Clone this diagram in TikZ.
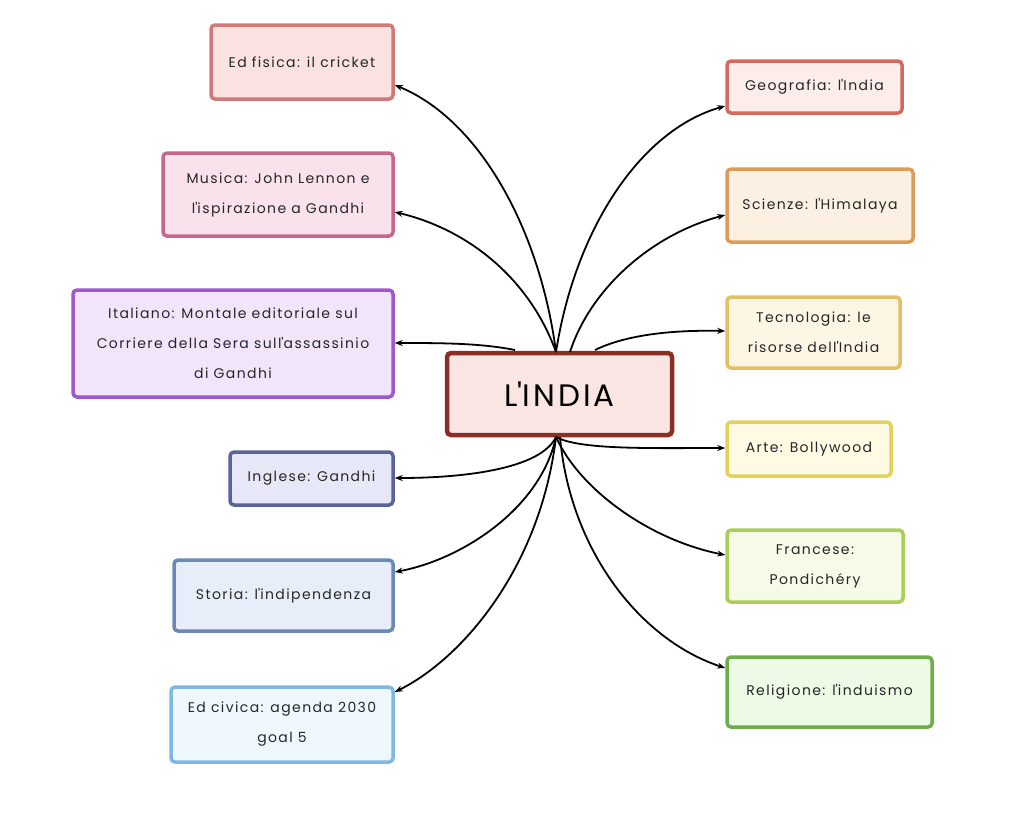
\documentclass[tikz,border=0pt]{standalone}
\usepackage{fontspec}
\setmainfont{Poppins}[LetterSpace=10]
\usetikzlibrary{arrows.meta}
\newcommand\q{\textquotesingle}
\begin{document}
\begin{tikzpicture}[x=1pt,y=-1pt,
 box/.style={draw=#1,line width=3.5pt,rounded corners=4pt,inner sep=0pt},
 tx/.style={font=\fontsize{14}{30}\selectfont,align=center,text=black!85},
 con/.style={-{Stealth[length=8pt,width=6pt]},line width=1.8pt,black}]
\useasboundingbox (0,0) rectangle (1024,814);
\newcommand\bx[7]{\node[box=#6,fill=#7,minimum width={#3-#1},minimum height={#4-#2}] (#5) at ({(#1+#3)/2},{(#2+#4)/2}) {};}
\definecolor{c1}{HTML}{D07A78}\definecolor{f1}{HTML}{F9E2DF}
\definecolor{c2}{HTML}{C4678A}\definecolor{f2}{HTML}{F9E2EC}
\definecolor{c3}{HTML}{A157CF}\definecolor{f3}{HTML}{F1E4FB}
\definecolor{c4}{HTML}{5A6499}\definecolor{f4}{HTML}{E6E8F8}
\definecolor{c5}{HTML}{6A8AB5}\definecolor{f5}{HTML}{E8EEF9}
\definecolor{c6}{HTML}{7FB8E0}\definecolor{f6}{HTML}{EEF8FE}
\definecolor{d1}{HTML}{D46A5E}\definecolor{g1}{HTML}{FCEDEB}
\definecolor{d2}{HTML}{DD9A59}\definecolor{g2}{HTML}{FCF0E3}
\definecolor{d3}{HTML}{E3BF67}\definecolor{g3}{HTML}{FDF6E4}
\definecolor{d4}{HTML}{E3D15A}\definecolor{g4}{HTML}{FEFAE4}
\definecolor{d5}{HTML}{A9CF5A}\definecolor{g5}{HTML}{F5FBE7}
\definecolor{d6}{HTML}{6DAE4A}\definecolor{g6}{HTML}{EDFAE6}
\definecolor{cc}{HTML}{8B2E24}\definecolor{fc}{HTML}{F9E6E3}
\node[box=cc,fill=fc,line width=4.5pt,minimum width=225,minimum height=82,font=\fontsize{31}{34}\selectfont,text=black] (C) at (559.5,394) {L\q INDIA};
\bx{211}{25}{393}{99}{L1}{c1}{f1}
\bx{163}{153}{393}{236}{L2}{c2}{f2}
\bx{73}{290}{393}{397}{L3}{c3}{f3}
\bx{230}{452}{393}{505}{L4}{c4}{f4}
\bx{174}{560}{393}{631}{L5}{c5}{f5}
\bx{171}{687}{393}{762}{L6}{c6}{f6}
\bx{727}{61}{902}{113}{R1}{d1}{g1}
\bx{727}{169}{913}{242}{R2}{d2}{g2}
\bx{727}{297}{900}{368}{R3}{d3}{g3}
\bx{727}{422}{891}{476}{R4}{d4}{g4}
\bx{727}{530}{903}{602}{R5}{d5}{g5}
\bx{727}{657}{932}{727}{R6}{d6}{g6}
\node[tx] at (L1) {Ed fisica: il cricket};
\node[tx] at (L2) {Musica: John Lennon e\\l\q ispirazione a Gandhi};
\node[tx] at (L3) {Italiano: Montale editoriale sul\\Corriere della Sera sull\q assassinio\\di Gandhi};
\node[tx] at (L4) {Inglese: Gandhi};
\node[tx] at (L5) {Storia: l\q indipendenza};
\node[tx] at (L6) {Ed civica: agenda 2030\\goal 5};
\node[tx] at (R1) {Geografia: l\q India};
\node[tx] at (R2) {Scienze: l\q Himalaya};
\node[tx] at (R3) {Tecnologia: le\\risorse dell\q India};
\node[tx] at (R4) {Arte: Bollywood};
\node[tx] at (R5) {Francese:\\Pondichéry};
\node[tx] at (R6) {Religione: l\q induismo};
\coordinate (t) at (556,352);
\coordinate (b) at (556,437);
\draw[con] (t) .. controls (540,230) and (480,120) .. (L1.east|-0,85);
\draw[con] (t) .. controls (530,280) and (470,230) .. (L2.east|-0,212);
\draw[con] (515,350) .. controls (480,343) and (440,343) .. (L3.east|-0,343);
\draw[con] (b) .. controls (540,470) and (460,478) .. (L4.east|-0,478);
\draw[con] (b) .. controls (540,510) and (460,560) .. (L5.east|-0,572);
\draw[con] (b) .. controls (540,570) and (460,660) .. (L6.east|-0,692);
\draw[con] (t) .. controls (575,230) and (640,130) .. (R1.west|-0,106);
\draw[con] (570,352) .. controls (590,290) and (650,235) .. (R2.west|-0,215);
\draw[con] (595,350) .. controls (630,333) and (680,330) .. (R3.west|-0,331);
\draw[con] (b) .. controls (580,450) and (650,448) .. (R4.west|-0,448);
\draw[con] (b) .. controls (580,490) and (650,540) .. (R5.west|-0,555);
\draw[con] (560,437) .. controls (570,550) and (640,640) .. (R6.west|-0,668);
\end{tikzpicture}
\end{document}
